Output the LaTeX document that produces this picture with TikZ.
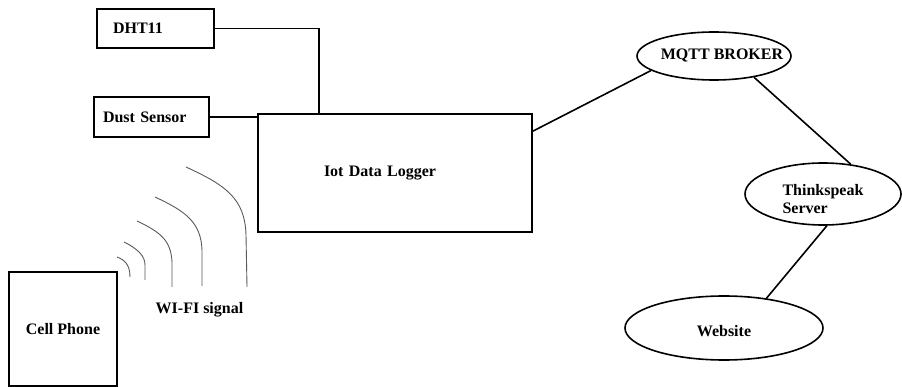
\documentclass[tikz,border=0pt]{standalone}
\usepackage{fontspec}
\setmainfont{Liberation Serif}
\usepackage{tikz}
\usetikzlibrary{shapes.geometric, calc}

\begin{document}
\begin{tikzpicture}[x=1pt, y=-1pt, line width=1.6pt,
    every node/.style={font=\bfseries\fontsize{16}{18}\selectfont},
    sbox/.style={draw, rectangle, inner sep=0pt, align=left},
    cloud/.style={draw, ellipse, inner sep=0pt},
    wave/.style={draw=black!65, line width=0.9pt}]
            \useasboundingbox (0,0) rectangle (902,387);
            \node[sbox, minimum width=117, minimum height=39, inner xsep=16pt, text width=85pt] (dht) at (155.5,28.5) {DHT11};
            \node[sbox, minimum width=115, minimum height=40, inner xsep=9pt, text width=97pt] (dust) at (151.5,117) {Dust Sensor};
            \node[sbox, minimum width=274, minimum height=118, inner xsep=66pt, text width=142pt] (logger) at (395,173) {Iot Data Logger};
            \node[sbox, minimum width=108, minimum height=114, align=center] (phone) at (63,329) {Cell Phone};
            \node[cloud, minimum width=154, minimum height=48, label={[xshift=8pt]center:MQTT BROKER}] (mqtt) at (714,56) {};
            \node[cloud, minimum width=156, minimum height=62, label={[align=left, yshift=-5pt]center:Thinkspeak\\Server}] (think) at (823,194) {};
            \node[cloud, minimum width=198, minimum height=64, label={[yshift=-3pt]center:Website}] (web) at (724,328) {};
            \node (wifi) at (199.5,310) {WI-FI signal};
            \draw (dht.east) -| ([xshift=62pt]logger.north west);
            \draw (dust.east) -- (dust.east -| logger.west);
            \draw ([yshift=-18pt]logger.north east) -- (mqtt.193);
            \draw (mqtt.-28) -- (think.47);
            \draw (think.-83) -- (web.35);
            % wifi waves
            \draw[wave] (117,257) .. controls (125,260) and (130,265) .. (130,277);
            \draw[wave] (124,242) .. controls (138,249) and (145,256) .. (145,265) -- (145,280);
            \draw[wave] (137,221) .. controls (160,232) and (171,240) .. (172,262) -- (172,287);
            \draw[wave] (155,197) .. controls (185,211) and (201,222) .. (202,250) -- (202,286);
            \draw[wave] (186,167) .. controls (225,185) and (245,198) .. (246,235) -- (247,287);
        \end{tikzpicture}
\end{document}
